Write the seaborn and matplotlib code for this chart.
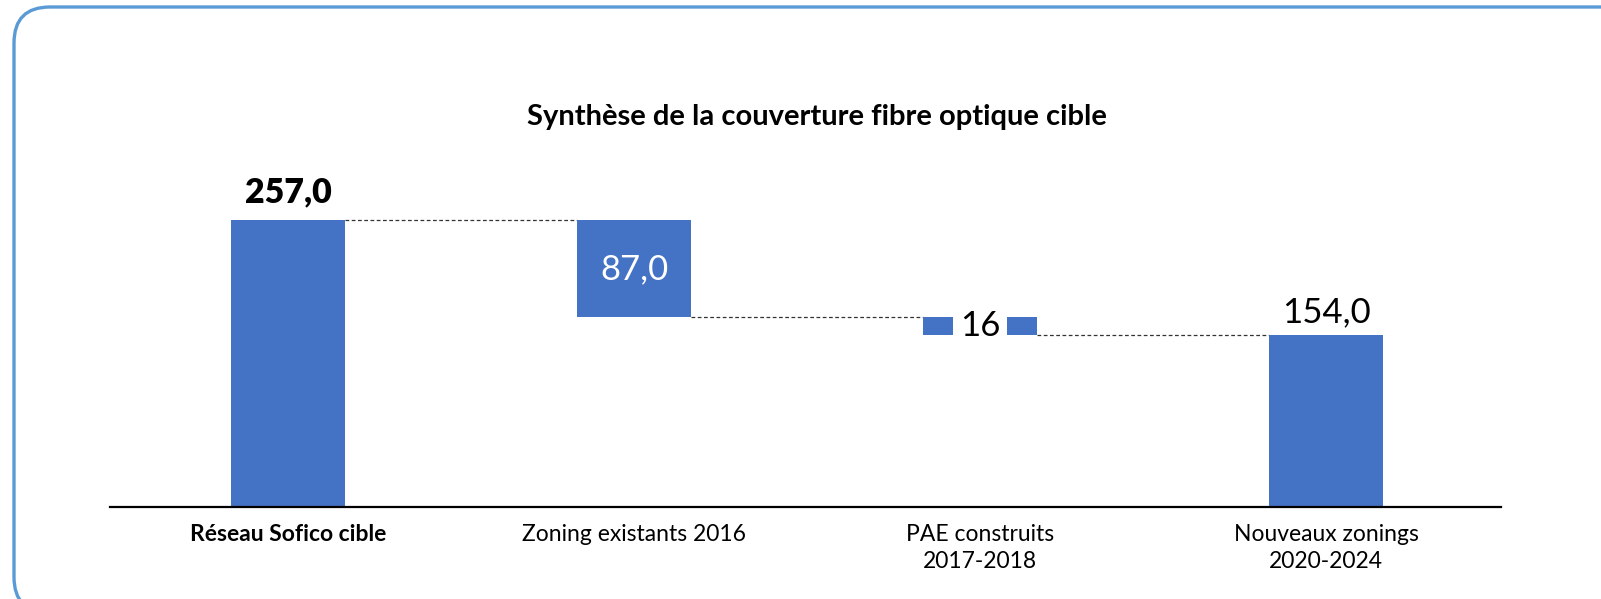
import matplotlib
matplotlib.use("Agg")
import matplotlib.pyplot as plt
from matplotlib.patches import FancyBboxPatch
from matplotlib.transforms import IdentityTransform
import seaborn as sns
import pandas as pd

categories = ["Réseau Sofico cible", "Zoning existants 2016",
              "PAE construits\n2017-2018", "Nouveaux zonings\n2020-2024"]
changes = [257.0, -87.0, -16.0, 154.0]
kinds = ["total", "delta", "delta", "total"]
labels = ["257,0", "87,0", "16", "154,0"]
title = "Synthèse de la couverture fibre optique cible"

# waterfall geometry derived from the values
bottoms, heights, levels = [], [], []
level = 0.0
for v, k in zip(changes, kinds):
    if k == "total":
        bottoms.append(0.0); heights.append(v); level = v
    else:
        new = level + v
        bottoms.append(min(level, new)); heights.append(abs(v)); level = new
    levels.append(level)

df = pd.DataFrame({"cat": categories, "h": heights})

sns.set_theme(style="white")
plt.rcParams["font.family"] = ["Lato", "DejaVu Sans"]

fig = plt.figure(figsize=(16.01, 5.99), dpi=100)
ax = fig.add_axes([110/1601, 1-507/599, 1391/1601, (507-160)/599])

W = 0.33
BLUE = "#4472C4"
sns.barplot(data=df, x="cat", y="h", order=categories, color=BLUE, width=W,
            bottom=bottoms, saturation=1, ax=ax, linewidth=0, zorder=2)

ax.set_xlim(-0.514, 3.505)
ax.set_ylim(0, (507-160)/1.115)
ax.set_xlabel(""); ax.set_ylabel("")
ax.set_yticks([])
for s in ["top", "right", "left"]:
    ax.spines[s].set_visible(False)
ax.spines["bottom"].set_color("#000000")
ax.spines["bottom"].set_linewidth(1.6)
ax.tick_params(axis="x", length=0, pad=12, labelsize=16.5, colors="#000000")
for i, t in enumerate(ax.get_xticklabels()):
    t.set_linespacing(1.4)
    t.set_va("top")
    if i == 0:
        t.set_fontweight("bold")

# connectors
tops = [b + h for b, h in zip(bottoms, heights)]
for i in range(len(categories) - 1):
    ax.plot([i + W/2, i + 1 - W/2], [levels[i], levels[i]], color="#333333",
            lw=0.9, ls=(0, (3, 2)), zorder=1)

# value labels
ax.annotate(labels[0], (0, tops[0]), xytext=(0, 9), textcoords="offset points",
            ha="center", va="bottom", fontsize=24.5, fontweight="heavy", color="black")
ax.text(1, bottoms[1] + heights[1]/2, labels[1], ha="center", va="center",
        fontsize=25, color="white")
ax.text(2, bottoms[2] + heights[2]/2, labels[2], ha="center", va="center",
        fontsize=25, color="black", zorder=5,
        bbox=dict(boxstyle="square,pad=0.2", fc="white", ec="none"))
ax.annotate(labels[3], (3, tops[3]), xytext=(0, 5), textcoords="offset points",
            ha="center", va="bottom", fontsize=25, color="black")

fig.text(817/1601, 1-117/599, title, ha="center", va="center",
         fontsize=21, fontweight="bold", color="black")

border = FancyBboxPatch((14, -14), 1630, 606,
                        boxstyle="round,pad=0,rounding_size=36",
                        transform=IdentityTransform(), fill=False,
                        ec="#5B9BD5", lw=2.4)
fig.patches.append(border)

fig.savefig("out.png", dpi=100)
